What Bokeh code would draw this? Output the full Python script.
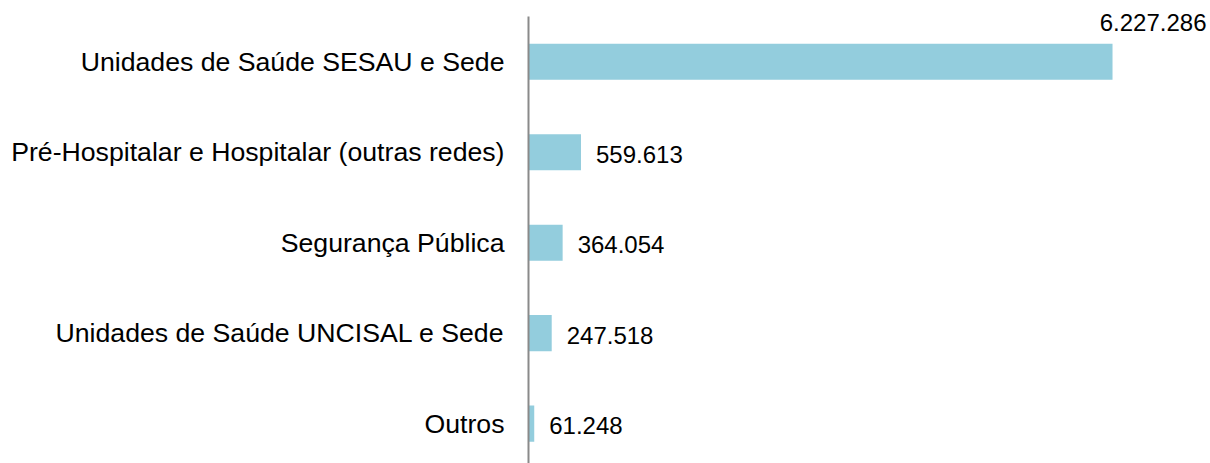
from bokeh.plotting import figure
from bokeh.models import Range1d, FixedTicker, ColumnDataSource
from bokeh.core.properties import value
from bokeh.embed import file_html
from bokeh.resources import INLINE

categories = [
    "Unidades de Saúde SESAU e Sede",
    "Pré-Hospitalar e Hospitalar (outras redes)",
    "Segurança Pública",
    "Unidades de Saúde UNCISAL e Sede",
    "Outros",
]
values = [6227286, 559613, 364054, 247518, 61248]
value_labels = ["6.227.286", "559.613", "364.054", "247.518", "61.248"]

n = len(categories)
ypos = [n - 0.5 - i for i in range(n)]

# label placement: long bar label goes above the bar end
vmax = max(values)
x_off = [94 if v > 0.8 * vmax else 15 for v in values]
y_off = [-39 if v > 0.8 * vmax else 2 for v in values]
align = ["right" if v > 0.8 * vmax else "left" for v in values]

src = ColumnDataSource(dict(y=ypos, v=values, lab=value_labels,
                            xo=x_off, yo=y_off, al=align))

p = figure(width=1210, height=463, output_backend="svg", toolbar_location=None,
           x_range=Range1d(0, 7272000), y_range=Range1d(0.06, 5.177),
           min_border_left=528, min_border_right=0, min_border_top=0,
           min_border_bottom=0)
p.outline_line_color = None
p.background_fill_color = "white"
p.border_fill_color = "white"
p.xgrid.visible = False
p.ygrid.visible = False
p.xaxis.visible = False

p.hbar(y="y", right="v", left=0, height=0.4, source=src,
       fill_color="#93CDDD", line_color=None)

p.text(x="v", y="y", text="lab", x_offset="xo", y_offset="yo",
       text_align="al", text_baseline="middle", source=src,
       text_font=value("Liberation Sans"), text_font_size="24px",
       text_color="#000000")

ya = p.yaxis[0]
ya.bounds = (0.06, 5.0)
ya.ticker = FixedTicker(ticks=ypos)
ya.major_label_overrides = {y: c for y, c in zip(ypos, categories)}
ya.major_tick_in = 0
ya.major_tick_out = 0
ya.minor_tick_in = 0
ya.minor_tick_out = 0
ya.major_label_standoff = 24
ya.major_label_text_font = "Liberation Sans"
ya.major_label_text_font_size = "26.67px"
ya.major_label_text_color = "#000000"
ya.axis_line_color = "#8a8a8a"
ya.axis_line_width = 2

open("out.html", "w").write(file_html(p, INLINE))
